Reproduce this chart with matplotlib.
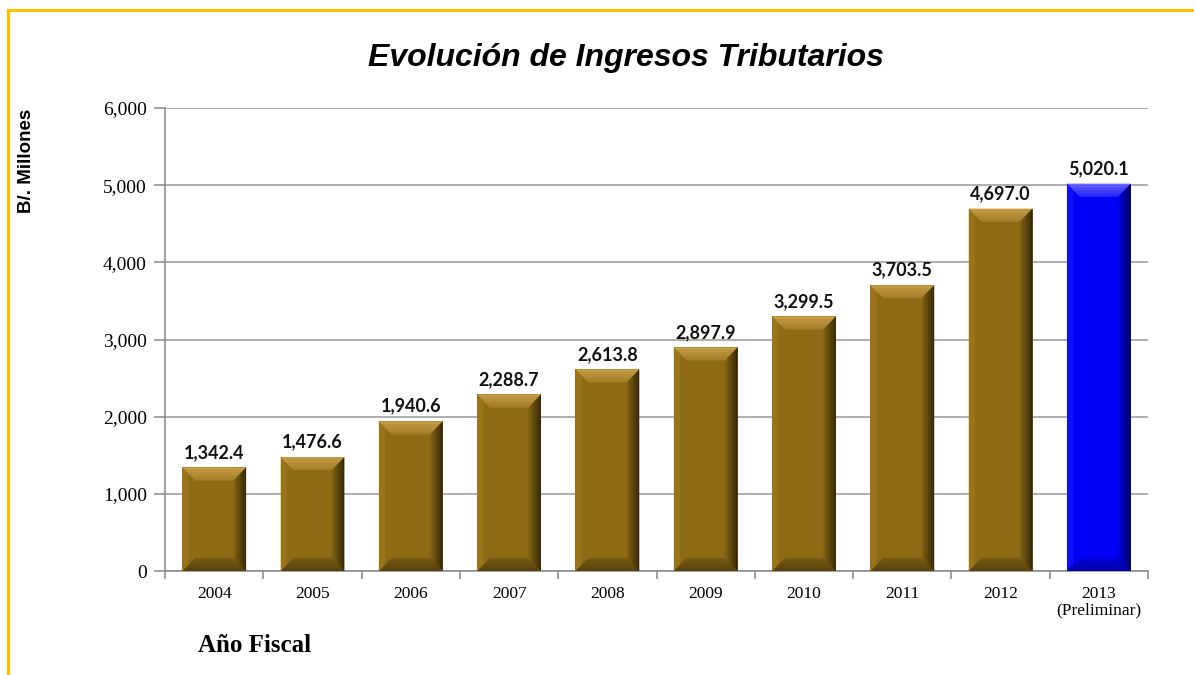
import numpy as np
import matplotlib.pyplot as plt
from matplotlib.patches import Polygon
from matplotlib.lines import Line2D
from matplotlib.ticker import FuncFormatter, MultipleLocator

# =========================
# DATA
# =========================
years = ["2004", "2005", "2006", "2007", "2008", "2009", "2010", "2011", "2012",
         "2013\n(Preliminar)"]
ingresos = [1342.4, 1476.6, 1940.6, 2288.7, 2613.8, 2897.9, 3299.5, 3703.5, 4697.0,
            5020.1]
preliminar = [False] * 9 + [True]

GOLD = {"body": "#8d6b15", "top": "#c9a04a", "bottom": "#4f3a0c", "side": "#2a1f06",
        "left": "#a27b1d"}
BLUE = {"body": "#0000f5", "top": "#6a6aff", "bottom": "#00009a", "side": "#000048",
        "left": "#1a1aff"}


def bevel_bar(ax, x, h, width, pal, bev_x, bev_y):
    x0, x1 = x - width / 2, x + width / 2
    ax.bar(x, h, width=width, color=pal["body"], zorder=3, linewidth=0)
    n = 8
    # top bevel, fading from light edge into the body
    for i in range(n):
        ya, yb = h - bev_y * i / n, h - bev_y * (i + 1) / n
        xa, xb = bev_x * i / n, bev_x * (i + 1) / n
        ax.add_patch(Polygon([(x0 + xa, ya), (x1 - xa, ya), (x1 - xb, yb), (x0 + xb, yb)],
                             closed=True, color=pal["top"], alpha=1 - 0.7 * i / n,
                             zorder=4, lw=0))
    # bottom bevel
    for i in range(n):
        ya, yb = bev_y * i / n, bev_y * (i + 1) / n
        xa, xb = bev_x * i / n, bev_x * (i + 1) / n
        ax.add_patch(Polygon([(x0 + xa, ya), (x1 - xa, ya), (x1 - xb, yb), (x0 + xb, yb)],
                             closed=True, color=pal["bottom"], alpha=0.9 - 0.6 * i / n,
                             zorder=4, lw=0))
    # right side shading (gradient towards dark edge)
    for i in range(n):
        xa = x1 - bev_x * (n - i) / n
        xb = x1 - bev_x * (n - i - 1) / n
        a = (i + 1) / n
        ax.add_patch(Polygon([(xa, bev_y * (n - i) / n), (xb, bev_y * (n - i - 1) / n),
                              (xb, h - bev_y * (n - i - 1) / n), (xa, h - bev_y * (n - i) / n)],
                             closed=True, color=pal["side"], alpha=a * 0.9, zorder=4, lw=0))
    # left side slight highlight
    ax.add_patch(Polygon([(x0, 0), (x0 + bev_x * 0.5, bev_y * 0.5),
                          (x0 + bev_x * 0.5, h - bev_y * 0.5), (x0, h)],
                         closed=True, color=pal["left"], alpha=0.6, zorder=4, lw=0))


def main():
    fig = plt.figure(figsize=(11.94, 6.75), dpi=100)
    ax = fig.add_axes([0.1382, 0.154, 0.8233, 0.686])

    xpos = np.arange(len(years))
    width = 0.65
    for x, h, p in zip(xpos, ingresos, preliminar):
        bevel_bar(ax, x, h, width, BLUE if p else GOLD, 0.13, 170)
        ax.text(x, h + 85, f"{h:,.1f}", ha="center", va="bottom", fontsize=13,
                fontweight="bold", family="Lato", color="#111111", zorder=5)

    ax.set_xlim(-0.5, len(years) - 0.5)
    ax.set_ylim(0, 6000)
    ax.yaxis.set_major_locator(MultipleLocator(1000))
    ax.yaxis.set_major_formatter(FuncFormatter(lambda v, _: f"{v:,.0f}"))
    ax.grid(axis="y", color="#999999", linewidth=1.1, zorder=1)

    ax.set_xticks(xpos)
    ax.set_xticklabels(years, family="Liberation Serif", fontsize=12.5, linespacing=1.0)
    ax.set_xticks(np.arange(-0.5, len(years)), minor=True)
    ax.tick_params(axis="x", which="major", length=0, pad=11)
    ax.tick_params(axis="x", which="minor", length=6, color="#888888", width=1.1)
    ax.tick_params(axis="y", length=8, color="#888888", width=1.1, pad=5, labelsize=14)
    for lbl in ax.get_yticklabels():
        lbl.set_family("Liberation Serif")

    for s in ["top", "right"]:
        ax.spines[s].set_visible(False)
    for s in ["left", "bottom"]:
        ax.spines[s].set_color("#888888")
        ax.spines[s].set_linewidth(1.1)

    fig.text(0.524, 0.914, "Evolución de Ingresos Tributarios", ha="center", va="center",
             fontsize=23, fontweight="bold", style="italic", family="Liberation Sans")
    fig.text(0.022, 0.762, "B/. Millones", rotation=90, ha="center", va="center",
             fontsize=13.5, fontweight="bold", family="Liberation Sans")
    fig.text(0.166, 0.044, "Año Fiscal", ha="left", va="center",
             fontsize=18, fontweight="bold", family="Liberation Serif")

    # yellow frame (top and left)
    fig.add_artist(Line2D([0.007, 1.0], [0.985, 0.985], color="#ffc000", lw=2.2,
                          transform=fig.transFigure))
    fig.add_artist(Line2D([0.007, 0.007], [0.0, 0.985], color="#ffc000", lw=2.2,
                          transform=fig.transFigure))

    fig.savefig("out.png", dpi=100)


if __name__ == "__main__":
    main()
